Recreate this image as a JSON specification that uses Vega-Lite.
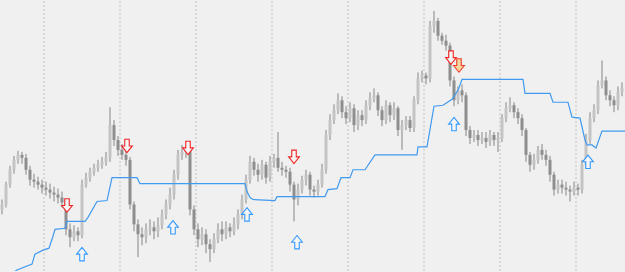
{
  "$schema": "https://vega.github.io/schema/vega-lite/v6.json",
  "width": 625,
  "height": 272,
  "padding": 0,
  "autosize": {"type": "fit", "contains": "padding"},
  "background": "#f0f0f0",
  "config": {"view": {"stroke": null}},
  "datasets": {
    "candles": [
      {"i":0,"o":62,"h":72,"l":57,"c":67},{"i":1,"o":67,"h":90,"l":64,"c":87},{"i":2,"o":87,"h":106,"l":84,"c":102},{"i":3,"o":102,"h":116,"l":98,"c":112},{"i":4,"o":112,"h":121,"l":108,"c":117},{"i":5,"o":117,"h":120,"l":108,"c":114},{"i":6,"o":114,"h":118,"l":97,"c":102},{"i":7,"o":102,"h":106,"l":86,"c":92},{"i":8,"o":92,"h":98,"l":84,"c":90},{"i":9,"o":90,"h":95,"l":82,"c":87},
      {"i":10,"o":87,"h":92,"l":78,"c":84},{"i":11,"o":84,"h":90,"l":76,"c":82},{"i":12,"o":82,"h":88,"l":73,"c":79},{"i":13,"o":79,"h":85,"l":70,"c":77},{"i":14,"o":77,"h":83,"l":68,"c":74},{"i":15,"o":74,"h":80,"l":64,"c":69},{"i":16,"o":69,"h":72,"l":36,"c":42},{"i":17,"o":42,"h":48,"l":24,"c":34},{"i":18,"o":34,"h":46,"l":30,"c":40},{"i":19,"o":40,"h":44,"l":30,"c":36},
      {"i":20,"o":36,"h":92,"l":33,"c":87},{"i":21,"o":87,"h":99,"l":84,"c":94},{"i":22,"o":94,"h":104,"l":90,"c":100},{"i":23,"o":100,"h":108,"l":96,"c":104},{"i":24,"o":104,"h":112,"l":100,"c":107},{"i":25,"o":107,"h":115,"l":103,"c":110},{"i":26,"o":110,"h":120,"l":106,"c":114},{"i":27,"o":114,"h":165,"l":110,"c":147},{"i":28,"o":147,"h":152,"l":126,"c":132},{"i":29,"o":132,"h":136,"l":116,"c":122},
      {"i":30,"o":122,"h":128,"l":112,"c":117},{"i":31,"o":117,"h":122,"l":106,"c":112},{"i":32,"o":112,"h":115,"l":62,"c":67},{"i":33,"o":67,"h":70,"l":40,"c":47},{"i":34,"o":47,"h":52,"l":14,"c":37},{"i":35,"o":37,"h":44,"l":26,"c":34},{"i":36,"o":34,"h":48,"l":28,"c":42},{"i":37,"o":42,"h":52,"l":36,"c":44},{"i":38,"o":44,"h":50,"l":32,"c":40},{"i":39,"o":40,"h":54,"l":34,"c":46},
      {"i":40,"o":46,"h":62,"l":42,"c":57},{"i":41,"o":57,"h":72,"l":52,"c":67},{"i":42,"o":67,"h":84,"l":62,"c":77},{"i":43,"o":77,"h":102,"l":72,"c":97},{"i":44,"o":97,"h":122,"l":92,"c":117},{"i":45,"o":117,"h":127,"l":112,"c":120},{"i":46,"o":120,"h":126,"l":114,"c":122},{"i":47,"o":122,"h":124,"l":56,"c":62},{"i":48,"o":62,"h":66,"l":36,"c":42},{"i":49,"o":42,"h":48,"l":24,"c":32},
      {"i":50,"o":32,"h":44,"l":26,"c":37},{"i":51,"o":37,"h":42,"l":18,"c":27},{"i":52,"o":27,"h":32,"l":9,"c":22},{"i":53,"o":22,"h":38,"l":18,"c":32},{"i":54,"o":32,"h":48,"l":28,"c":42},{"i":55,"o":42,"h":50,"l":30,"c":37},{"i":56,"o":37,"h":50,"l":32,"c":44},{"i":57,"o":44,"h":48,"l":34,"c":40},{"i":58,"o":40,"h":54,"l":36,"c":47},{"i":59,"o":47,"h":62,"l":42,"c":57},
      {"i":60,"o":57,"h":77,"l":52,"c":72},{"i":61,"o":72,"h":97,"l":68,"c":92},{"i":62,"o":92,"h":116,"l":88,"c":110},{"i":63,"o":110,"h":114,"l":96,"c":102},{"i":64,"o":102,"h":108,"l":90,"c":97},{"i":65,"o":97,"h":112,"l":92,"c":107},{"i":66,"o":107,"h":110,"l":88,"c":94},{"i":67,"o":94,"h":116,"l":90,"c":110},{"i":68,"o":110,"h":118,"l":104,"c":114},{"i":69,"o":114,"h":140,"l":100,"c":104},
      {"i":70,"o":104,"h":110,"l":96,"c":102},{"i":71,"o":102,"h":106,"l":94,"c":100},{"i":72,"o":100,"h":104,"l":80,"c":87},{"i":73,"o":87,"h":90,"l":50,"c":72},{"i":74,"o":72,"h":88,"l":66,"c":82},{"i":75,"o":82,"h":96,"l":78,"c":92},{"i":76,"o":92,"h":102,"l":86,"c":97},{"i":77,"o":97,"h":100,"l":76,"c":82},{"i":78,"o":82,"h":86,"l":74,"c":80},{"i":79,"o":80,"h":92,"l":76,"c":87},
      {"i":80,"o":87,"h":108,"l":84,"c":102},{"i":81,"o":102,"h":142,"l":98,"c":137},{"i":82,"o":137,"h":158,"l":132,"c":152},{"i":83,"o":152,"h":168,"l":148,"c":162},{"i":84,"o":162,"h":179,"l":158,"c":172},{"i":85,"o":172,"h":176,"l":154,"c":160},{"i":86,"o":160,"h":166,"l":148,"c":154},{"i":87,"o":154,"h":170,"l":150,"c":164},{"i":88,"o":164,"h":168,"l":140,"c":147},{"i":89,"o":147,"h":162,"l":142,"c":157},
      {"i":90,"o":157,"h":162,"l":146,"c":152},{"i":91,"o":152,"h":172,"l":148,"c":167},{"i":92,"o":167,"h":180,"l":162,"c":174},{"i":93,"o":174,"h":184,"l":170,"c":177},{"i":94,"o":177,"h":180,"l":156,"c":162},{"i":95,"o":162,"h":166,"l":146,"c":152},{"i":96,"o":152,"h":172,"l":148,"c":167},{"i":97,"o":167,"h":170,"l":150,"c":157},{"i":98,"o":157,"h":170,"l":152,"c":164},{"i":99,"o":164,"h":166,"l":136,"c":142},
      {"i":100,"o":142,"h":152,"l":122,"c":147},{"i":101,"o":147,"h":156,"l":142,"c":152},{"i":102,"o":152,"h":156,"l":140,"c":144},{"i":103,"o":144,"h":176,"l":140,"c":172},{"i":104,"o":172,"h":200,"l":168,"c":194},{"i":105,"o":194,"h":202,"l":190,"c":197},{"i":106,"o":197,"h":200,"l":188,"c":194},{"i":107,"o":194,"h":252,"l":190,"c":247},{"i":108,"o":247,"h":262,"l":240,"c":252},{"i":109,"o":252,"h":255,"l":232,"c":237},
      {"i":110,"o":237,"h":240,"l":228,"c":232},{"i":111,"o":232,"h":238,"l":222,"c":227},{"i":112,"o":227,"h":230,"l":186,"c":192},{"i":113,"o":192,"h":196,"l":166,"c":172},{"i":114,"o":172,"h":186,"l":168,"c":182},{"i":115,"o":182,"h":188,"l":170,"c":177},{"i":116,"o":177,"h":180,"l":136,"c":142},{"i":117,"o":142,"h":146,"l":128,"c":134},{"i":118,"o":134,"h":142,"l":130,"c":137},{"i":119,"o":137,"h":142,"l":126,"c":132},
      {"i":120,"o":132,"h":140,"l":128,"c":134},{"i":121,"o":134,"h":140,"l":124,"c":130},{"i":122,"o":130,"h":142,"l":126,"c":137},{"i":123,"o":137,"h":140,"l":126,"c":132},{"i":124,"o":132,"h":140,"l":120,"c":134},{"i":125,"o":134,"h":158,"l":130,"c":154},{"i":126,"o":154,"h":170,"l":150,"c":164},{"i":127,"o":164,"h":175,"l":160,"c":167},{"i":128,"o":167,"h":170,"l":154,"c":160},{"i":129,"o":160,"h":164,"l":148,"c":154},
      {"i":130,"o":154,"h":158,"l":136,"c":142},{"i":131,"o":142,"h":144,"l":110,"c":117},{"i":132,"o":117,"h":120,"l":100,"c":107},{"i":133,"o":107,"h":118,"l":102,"c":112},{"i":134,"o":112,"h":126,"l":108,"c":122},{"i":135,"o":122,"h":128,"l":112,"c":117},{"i":136,"o":117,"h":122,"l":106,"c":112},{"i":137,"o":112,"h":116,"l":90,"c":97},{"i":138,"o":97,"h":100,"l":76,"c":82},{"i":139,"o":82,"h":92,"l":78,"c":87},
      {"i":140,"o":87,"h":92,"l":78,"c":84},{"i":141,"o":84,"h":90,"l":76,"c":82},{"i":142,"o":82,"h":86,"l":70,"c":80},{"i":143,"o":80,"h":90,"l":76,"c":84},{"i":144,"o":84,"h":88,"l":76,"c":82},{"i":145,"o":82,"h":112,"l":78,"c":107},{"i":146,"o":107,"h":138,"l":104,"c":132},{"i":147,"o":132,"h":160,"l":128,"c":154},{"i":148,"o":154,"h":168,"l":150,"c":162},{"i":149,"o":162,"h":192,"l":158,"c":187},
      {"i":150,"o":187,"h":212,"l":184,"c":192},{"i":151,"o":192,"h":196,"l":172,"c":177},{"i":152,"o":177,"h":182,"l":166,"c":172},{"i":153,"o":172,"h":176,"l":160,"c":167},{"i":154,"o":167,"h":186,"l":162,"c":180},{"i":155,"o":180,"h":190,"l":176,"c":184}
    ],
    "stop": [
      {"i":-0.5,"p":-10},{"i":3.75,"p":1},{"i":7.5,"p":7},{"i":8.25,"p":17},{"i":10.25,"p":21},{"i":11.75,"p":23},{"i":12.75,"p":35},{"i":13.25,"p":42},{"i":15.75,"p":43},{"i":16.25,"p":50},{"i":20.75,"p":50},{"i":21.5,"p":54},{"i":23.75,"p":70},{"i":26.25,"p":71},{"i":27.5,"p":94},{"i":33.75,"p":94},{"i":34.5,"p":88},{"i":60.75,"p":88},{"i":61.25,"p":80},{"i":62,"p":74},{"i":62.75,"p":72},{"i":68.25,"p":71},{"i":68.75,"p":75},{"i":80.75,"p":75},{"i":81.5,"p":82},{"i":83.75,"p":83},{"i":84.75,"p":94},{"i":87,"p":94},{"i":87.75,"p":102},{"i":90.75,"p":102},{"i":93.25,"p":117},{"i":103.75,"p":117},{"i":104,"p":125},{"i":106.25,"p":125},{"i":108,"p":166},{"i":110.25,"p":167},{"i":112.5,"p":173},{"i":114,"p":182},{"i":115,"p":193},{"i":130.25,"p":193},{"i":130.75,"p":179},{"i":137,"p":179},{"i":137.75,"p":170},{"i":141.5,"p":170},{"i":142.5,"p":155},{"i":144.5,"p":154},{"i":145.75,"p":132},{"i":146.25,"p":127},{"i":147.5,"p":127},{"i":148.5,"p":124},{"i":150,"p":141},{"i":155.75,"p":141}
    ],
    "signals": [
      {"i":16.25,"p":66,"dir":"down","sig":"sell"},{"i":31.25,"p":126,"dir":"down","sig":"sell"},{"i":46.5,"p":124,"dir":"down","sig":"sell"},{"i":73,"p":115,"dir":"down","sig":"sell"},{"i":112.25,"p":215,"dir":"down","sig":"sell"},{"i":114.25,"p":207,"dir":"down","sig":"sell2"},
      {"i":20,"p":17,"dir":"up","sig":"buy"},{"i":42.75,"p":44,"dir":"up","sig":"buy"},{"i":61.25,"p":57,"dir":"up","sig":"buy"},{"i":73.75,"p":29,"dir":"up","sig":"buy"},{"i":113,"p":148,"dir":"up","sig":"buy"},{"i":146.5,"p":110,"dir":"up","sig":"buy"}
    ],
    "grid": [{"i":10.5},{"i":29.5},{"i":48.5},{"i":67.5},{"i":86.5},{"i":105.5},{"i":124.5},{"i":143.5}]
  },
  "layer": [
    {
      "data": {"name": "grid"},
      "mark": {"type": "rule", "color": "#c2c2c2", "strokeDash": [2, 2], "strokeWidth": 1},
      "encoding": {
        "x": {"field": "i", "type": "quantitative", "scale": {"domain": [-0.5, 155.75], "nice": false, "zero": false, "padding": 0}, "axis": null}
      }
    },
    {
      "data": {"name": "candles"},
      "mark": {"type": "rule", "color": "#858585", "strokeWidth": 1},
      "encoding": {
        "x": {"field": "i", "type": "quantitative", "axis": null},
        "y": {"field": "l", "type": "quantitative", "scale": {"domain": [0, 272], "nice": false, "zero": false, "padding": 0}, "axis": null},
        "y2": {"field": "h"}
      }
    },
    {
      "data": {"name": "candles"},
      "mark": {"type": "bar", "width": 3},
      "encoding": {
        "x": {"field": "i", "type": "quantitative", "axis": null},
        "y": {"field": "o", "type": "quantitative", "axis": null},
        "y2": {"field": "c"},
        "color": {"condition": {"test": "datum.c >= datum.o", "value": "#c4c4c4"}, "value": "#8e8e8e"}
      }
    },
    {
      "data": {"name": "stop"},
      "mark": {"type": "line", "color": "#3f9af0", "strokeWidth": 1.2, "clip": true, "interpolate": "linear"},
      "encoding": {
        "x": {"field": "i", "type": "quantitative", "axis": null},
        "y": {"field": "p", "type": "quantitative", "axis": null}
      }
    },
    {
      "data": {"name": "signals"},
      "mark": {"type": "point", "filled": false, "strokeWidth": 1.1, "size": 115, "opacity": 1},
      "encoding": {
        "x": {"field": "i", "type": "quantitative", "axis": null},
        "y": {"field": "p", "type": "quantitative", "axis": null},
        "shape": {"field": "dir", "type": "nominal", "legend": null, "scale": {"domain": ["down", "up"], "range": ["M-0.42,-1.25L0.42,-1.25L0.42,0L1,0L0,1.25L-1,0L-0.42,0Z", "M-0.42,1.25L0.42,1.25L0.42,0L1,0L0,-1.25L-1,0L-0.42,0Z"]}},
        "stroke": {"field": "sig", "type": "nominal", "legend": null, "scale": {"domain": ["sell", "sell2", "buy"], "range": ["#f02525", "#f03a2a", "#3399ff"]}},
        "fill": {"field": "sig", "type": "nominal", "legend": null, "scale": {"domain": ["sell", "sell2", "buy"], "range": ["#f6f6f6", "#f5d8a0", "#f6f6f6"]}}
      }
    }
  ]
}
